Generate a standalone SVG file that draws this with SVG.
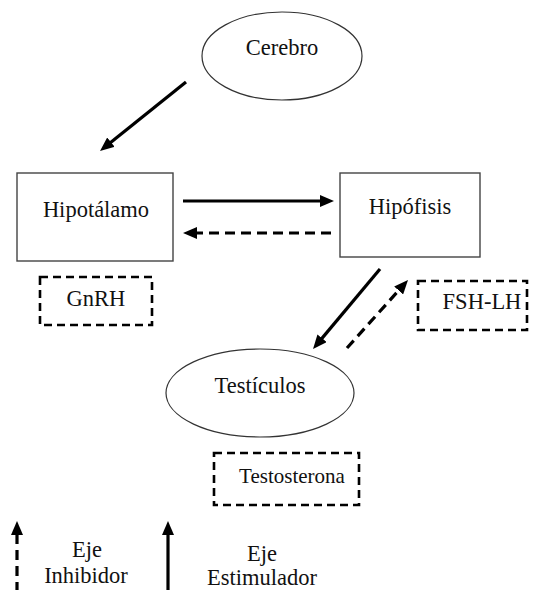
<svg xmlns="http://www.w3.org/2000/svg" width="534" height="590" viewBox="0 0 534 590">
  <defs>
    <marker id="ah" markerUnits="userSpaceOnUse" markerWidth="14" markerHeight="12" refX="8" refY="6" orient="auto">
      <path d="M0,0 L14,6 L0,12 z" fill="#000"/>
    </marker>
    <style>
      .t { font-size: 22.5px; fill: #111; text-anchor: middle; }
      .ts { font-size: 21px; }
      .ell { fill: #fff; stroke: #333; stroke-width: 1.2; }
      .box { fill: #fff; stroke: #444; stroke-width: 1.4; }
      .dbox { fill: none; stroke: #000; stroke-width: 2.6; stroke-dasharray: 8 5; }
      .solid { fill: none; stroke: #000; stroke-width: 3.2; marker-end: url(#ah); }
      .dash { fill: none; stroke: #000; stroke-width: 3.2; stroke-dasharray: 10 6; marker-end: url(#ah); }
    </style>
  </defs>
  <rect width="534" height="590" fill="#fff"/>

  <g font-family="Liberation Serif, Times New Roman, DejaVu Serif, serif">
  <g id="cerebro">
    <ellipse class="ell" cx="282" cy="56" rx="80" ry="44"/>
    <text class="t" x="282" y="55">Cerebro</text>
  </g>
  <g id="hipotalamo">
    <rect class="box" x="17" y="173" width="156" height="88"/>
    <text class="t" x="96" y="217">Hipotálamo</text>
  </g>
  <g id="hipofisis">
    <rect class="box" x="340" y="173" width="140" height="84"/>
    <text class="t" x="410" y="214">Hipófisis</text>
  </g>
  <g id="gnrh">
    <rect class="dbox" x="40" y="277" width="112" height="48"/>
    <text class="t" x="96" y="306">GnRH</text>
  </g>
  <g id="fshlh">
    <rect class="dbox" x="418" y="281" width="109" height="49"/>
    <text class="t" x="482" y="309">FSH-LH</text>
  </g>
  <g id="testiculos">
    <ellipse class="ell" cx="260" cy="393" rx="94" ry="44"/>
    <text class="t" x="260" y="393">Testículos</text>
  </g>
  <g id="testosterona">
    <rect class="dbox" x="214" y="453" width="145" height="52"/>
    <text class="t ts" x="292" y="483">Testosterona</text>
  </g>
  <g id="leyenda">
    <text class="t" x="87" y="557">Eje</text>
    <text class="t" x="86" y="583">Inhibidor</text>
    <text class="t" x="262" y="561">Eje</text>
    <text class="t" x="262" y="585">Estimulador</text>
  </g>
  </g>

  <g id="connectors">
    <line class="solid" x1="186" y1="82" x2="104.7" y2="147.2"/>
    <line class="solid" x1="183" y1="201" x2="328" y2="201"/>
    <line class="dash" x1="331" y1="233" x2="189" y2="233"/>
    <line class="solid" x1="380" y1="269" x2="316.9" y2="344.4"/>
    <line class="dash" x1="347" y1="348" x2="404" y2="284.5"/>
    <line class="dash" x1="17" y1="592" x2="17" y2="527"/>
    <line class="solid" x1="168" y1="592" x2="168" y2="527"/>
  </g>
</svg>
